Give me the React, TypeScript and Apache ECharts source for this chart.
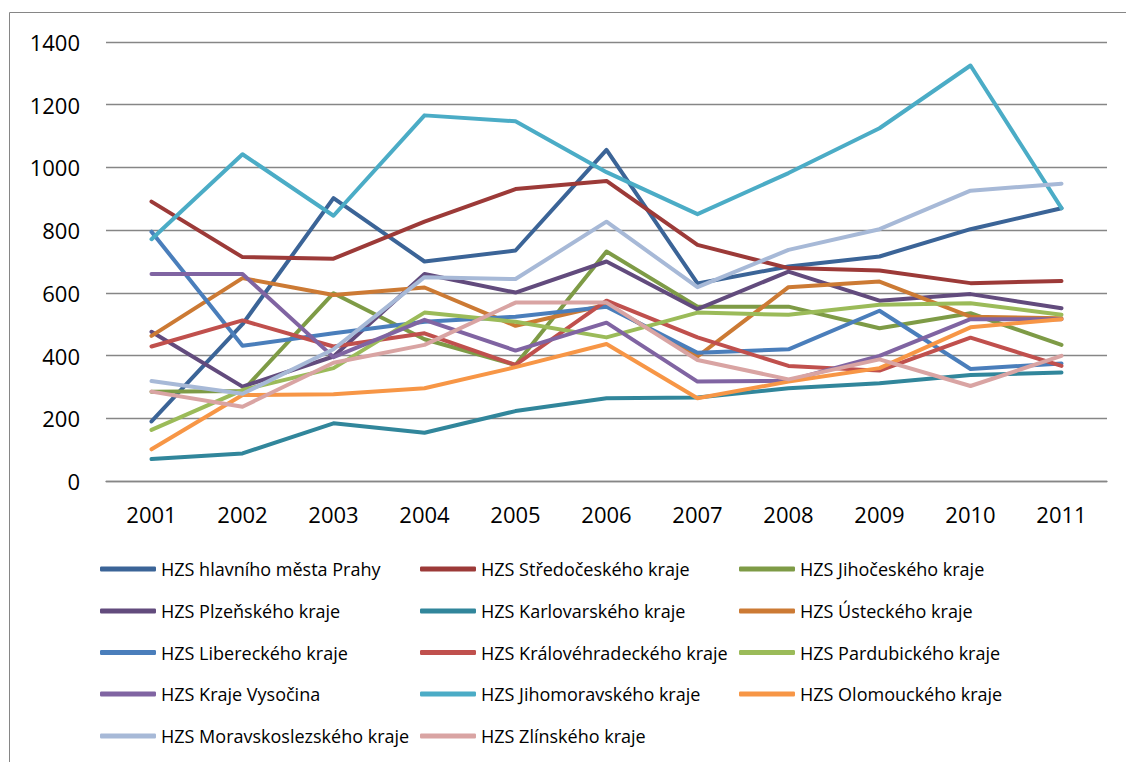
import React, { useEffect, useRef } from "react";
import * as echarts from "echarts";

const years = ["2001", "2002", "2003", "2004", "2005", "2006", "2007", "2008", "2009", "2010", "2011"];

const names = [
  "HZS hlavního města Prahy",
  "HZS Středočeského kraje",
  "HZS Jihočeského kraje",
  "HZS Plzeňského kraje",
  "HZS Karlovarského kraje",
  "HZS Ústeckého kraje",
  "HZS Libereckého kraje",
  "HZS Královéhradeckého kraje",
  "HZS Pardubického kraje",
  "HZS Kraje Vysočina",
  "HZS Jihomoravského kraje",
  "HZS Olomouckého kraje",
  "HZS Moravskoslezského kraje",
  "HZS Zlínského kraje",
];

const praha = [190, 500, 902, 700, 735, 1056, 630, 684, 716, 803, 870];
const stredocesky = [891, 714, 709, 827, 931, 957, 753, 679, 671, 631, 638];
const jihocesky = [285, 287, 599, 452, 370, 732, 556, 556, 487, 535, 434];
const plzensky = [476, 301, 397, 660, 601, 700, 548, 668, 575, 596, 551];
const karlovarsky = [70, 88, 184, 154, 223, 264, 266, 296, 312, 338, 346];
const ustecky = [463, 647, 593, 617, 495, 562, 397, 618, 636, 524, 519];
const liberecky = [795, 431, 471, 508, 524, 556, 409, 420, 543, 357, 375];
const kralovehradecky = [429, 512, 429, 471, 370, 575, 458, 367, 352, 457, 367];
const pardubicky = [163, 290, 360, 537, 508, 458, 537, 530, 562, 567, 530];
const vysocina = [660, 660, 395, 514, 416, 505, 317, 320, 399, 516, 516];
const jihomoravsky = [771, 1042, 846, 1166, 1147, 985, 851, 982, 1125, 1325, 870];
const olomoucky = [101, 274, 277, 296, 363, 437, 264, 317, 360, 490, 516];
const moravskoslezsky = [319, 278, 420, 650, 644, 827, 618, 737, 803, 926, 948];
const zlinsky = [285, 237, 377, 434, 569, 569, 386, 324, 388, 303, 399];

const seriesValues = [
  praha, stredocesky, jihocesky, plzensky, karlovarsky, ustecky, liberecky,
  kralovehradecky, pardubicky, vysocina, jihomoravsky, olomoucky, moravskoslezsky, zlinsky,
];

const colors = [
  "#3B6497", "#9C3A38", "#7E9B46", "#624B7D", "#31869B", "#CC7A34", "#4A7EBB",
  "#C0504D", "#9BBB59", "#8064A2", "#4BACC6", "#F79646", "#A7B9D7", "#D9A4A3",
];

const FONT = "'Open Sans', sans-serif";

export default function App() {
  const ref = useRef<HTMLDivElement>(null);
  useEffect(() => {
    if (!ref.current) return;
    const chart = echarts.init(ref.current, undefined, { renderer: "svg" });
    const colX = [100, 420, 739];
    const rowY = [569, 611, 652.5, 694, 736];
    const legends = names.map((n, i) => ({
      data: [n],
      left: colX[i % 3],
      top: rowY[Math.floor(i / 3)] - 11,
      padding: 0,
      icon: "roundRect",
      itemWidth: 56,
      itemHeight: 5,
      selectedMode: false,
      textStyle: { fontFamily: FONT, fontSize: 18, color: "#000", lineHeight: 22 },
    }));
    chart.setOption({
      animation: false,
      color: colors,
      backgroundColor: "#fff",
      graphic: [
        {
          type: "rect",
          shape: { x: 9.5, y: 12.5, width: 1300, height: 900 },
          style: { fill: "none", stroke: "#868686", lineWidth: 1 },
          silent: true,
        },
      ],
      grid: { left: 106, right: 19, top: 42, bottom: 281, containLabel: false },
      legend: legends,
      xAxis: {
        type: "category",
        data: years,
        boundaryGap: true,
        axisLine: { show: true, lineStyle: { color: "#868686", width: 1.3 } },
        axisTick: { show: false },
        axisLabel: { fontFamily: FONT, fontSize: 22, color: "#000", margin: 22 },
      },
      yAxis: {
        type: "value",
        min: 0,
        max: 1400,
        interval: 200,
        axisLine: { show: false },
        axisTick: { show: false },
        axisLabel: {
          fontFamily: FONT,
          fontSize: 22,
          color: "#000",
          margin: 26,
          formatter: (v: number) => String(v),
        },
        splitLine: { lineStyle: { color: "#868686", width: 1.3 } },
      },
      series: names.map((n, i) => ({
        name: n,
        type: "line",
        data: seriesValues[i],
        symbol: "none",
        lineStyle: { width: 4, color: colors[i], cap: "round", join: "round" },
        itemStyle: { color: colors[i] },
      })),
    });
    return () => chart.dispose();
  }, []);
  return (
    <div
      ref={ref}
      style={{ position: "absolute", left: 0, top: 0, width: 1126, height: 762 }}
    />
  );
}
